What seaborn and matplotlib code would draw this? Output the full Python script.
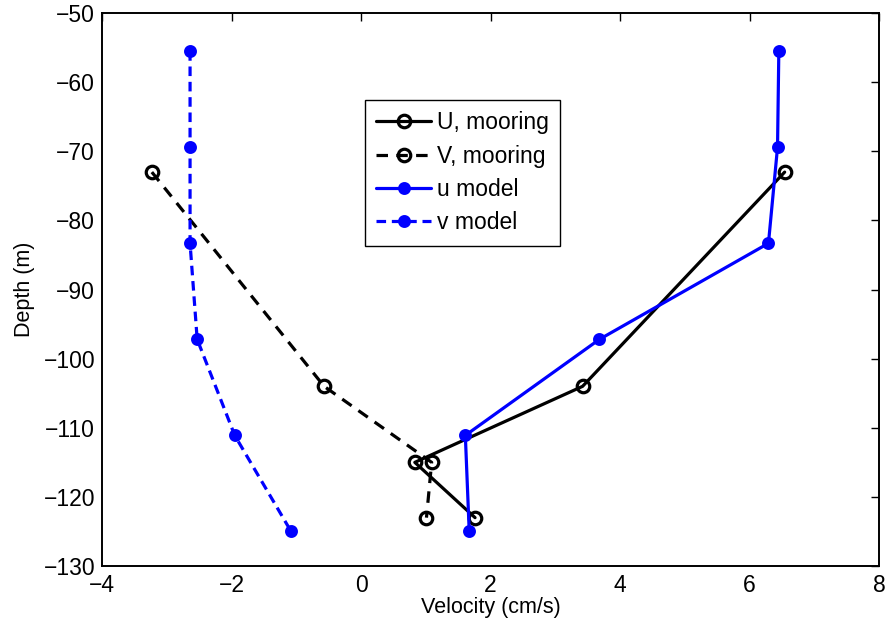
import matplotlib
matplotlib.use("Agg")
import matplotlib.pyplot as plt
import seaborn as sns
import pandas as pd

# Mooring observations
depth_U = [-73.0, -104.0, -115.0, -123.0]
U_mooring = [6.54, 3.42, 0.83, 1.76]
depth_V = [-73.0, -104.0, -115.0, -123.0]
V_mooring = [-3.23, -0.57, 1.09, 1.01]

# Model profiles
depth_model = [-55.5, -69.4, -83.3, -97.2, -111.1, -125.0]
u_model = [6.45, 6.43, 6.29, 3.68, 1.61, 1.67]
v_model = [-2.64, -2.64, -2.64, -2.53, -1.95, -1.08]

sns.set_style("white")
plt.rcParams["font.family"] = ["Liberation Sans", "DejaVu Sans"]
plt.rcParams["text.color"] = "black"
plt.rcParams["axes.labelcolor"] = "black"
plt.rcParams["xtick.color"] = "black"
plt.rcParams["ytick.color"] = "black"

fig = plt.figure(figsize=(8.89, 6.26), dpi=100)
ax = fig.add_axes([0.1147, 0.0958, 0.8743, 0.8832])

series = [
    ("U, mooring", U_mooring, depth_U, "black", "-", "none", 9.0),
    ("V, mooring", V_mooring, depth_V, "black", (0, (3.6, 2.6)), "none", 9.0),
    ("u model", u_model, depth_model, "blue", "-", "blue", 7.0),
    ("v model", v_model, depth_model, "blue", (0, (3.0, 1.8)), "blue", 7.0),
]

for label, xs, ys, color, ls, mfc, ms in series:
    df = pd.DataFrame({"velocity": xs, "depth": ys})
    sns.lineplot(data=df, x="velocity", y="depth", sort=False, estimator=None,
                 ax=ax, color=color, linestyle=ls, linewidth=2.3, marker="o",
                 markerfacecolor=mfc, markeredgecolor=color, markersize=ms,
                 markeredgewidth=2.3, label=label)

xt = list(range(-4, 9, 2))
yt = list(range(-130, -49, 10))
ax.set_xlim(-4, 8)
ax.set_ylim(-130, -50)
ax.set_xticks(xt)
ax.set_yticks(yt)
ax.set_xticklabels([f"\u2212{abs(t)}" if t < 0 else str(t) for t in xt])
ax.set_yticklabels([f"\u2212{abs(t)}" for t in yt])
ax.tick_params(axis="both", which="both", direction="in", length=6, width=1,
               top=True, right=True, labelsize=16.5, colors="black")
ax.tick_params(axis="x", pad=6)
ax.tick_params(axis="y", pad=5)
for s in ax.spines.values():
    s.set_visible(True)
    s.set_color("black")
    s.set_linewidth(1.4)

ax.set_xlabel("Velocity (cm/s)", fontsize=15.5, labelpad=0, color="black")
ax.set_ylabel("Depth (m)", fontsize=15.5, labelpad=6, color="black")

leg = ax.legend(loc="upper left", bbox_to_anchor=(0.338, 0.843), fontsize=16.5,
                frameon=True, fancybox=False, edgecolor="black", framealpha=1,
                handlelength=2.4, handletextpad=0.25, borderpad=0.5,
                labelspacing=0.45, borderaxespad=0)
leg.get_frame().set_linewidth(1.0)
for t in leg.get_texts():
    t.set_color("black")

fig.savefig("out.png", dpi=100)
